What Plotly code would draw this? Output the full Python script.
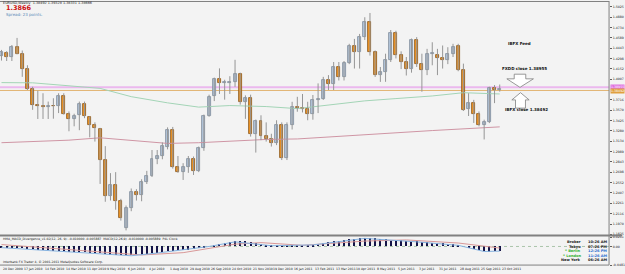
import pandas as pd
import plotly.graph_objects as go

W, H = 625, 274

# ---------------- data ----------------
start_week = "2009-12-20"
n_weeks = 97
opens = [1.4329,1.4378,1.4319,1.4468,1.4367,1.4152,1.3874,1.3647,1.3624,1.3622,
         1.3630,1.3637,1.3772,1.3522,1.3448,1.3498,1.3661,1.3476,1.3364,1.3309,
         1.2872,1.2362,1.2519,1.2287,1.1920,1.2200,1.2418,1.2384,1.2557,1.2649,
         1.2891,1.2927,1.3058,1.3289,1.2766,1.2705,1.2766,1.2891,1.2720,1.3044,
         1.3494,1.3776,1.4005,1.3949,1.3960,1.3971,1.4088,1.3693,1.3749,1.3239,
         1.3424,1.3206,1.3160,1.3110,1.3369,1.2905,1.3369,1.3623,1.3600,1.3587,
         1.3517,1.3717,1.3735,1.3995,1.3935,1.4180,1.4033,1.4236,1.4482,1.4389,
         1.4598,1.4816,1.4389,1.4065,1.4110,1.4283,1.4653,1.4343,1.4250,1.4158,
         1.4561,1.4218,1.4134,1.4367,1.4353,1.4310,1.4283,1.4367,1.4482,1.4144,
         1.3587,1.3679,1.3517,1.3369,1.3401,1.3879,1.38492]
highs = [1.4420,1.4403,1.4489,1.4589,1.4412,1.4204,1.3902,1.3847,1.3810,1.3693,
         1.3740,1.3810,1.3810,1.3554,1.3522,1.3693,1.3693,1.3484,1.3401,1.3323,
         1.3066,1.2686,1.2700,1.2324,1.2230,1.2470,1.2460,1.2600,1.2718,1.3011,
         1.3011,1.3118,1.3330,1.3336,1.2927,1.2826,1.2927,1.2920,1.3060,1.3510,
         1.3790,1.4030,1.4160,1.4000,1.4050,1.4281,1.4100,1.3780,1.3790,1.3440,
         1.3500,1.3400,1.3240,1.3430,1.3400,1.3400,1.3690,1.3760,1.3800,1.3690,
         1.3786,1.3949,1.4041,1.4065,1.4250,1.4250,1.4264,1.4506,1.4575,1.4645,
         1.4880,1.4940,1.4412,1.4180,1.4367,1.4700,1.4690,1.4400,1.4320,1.4580,
         1.4600,1.4367,1.4435,1.4528,1.4435,1.4482,1.4458,1.4506,1.4506,1.4227,
         1.3810,1.3717,1.3554,1.3438,1.3902,1.3925,1.39328]
lows = [1.4270,1.4264,1.4264,1.4360,1.4041,1.3856,1.3577,1.3448,1.3448,1.3448,
        1.3452,1.3531,1.3510,1.3275,1.3345,1.3290,1.3459,1.3189,1.3130,1.2534,
        1.2283,1.2301,1.2171,1.2018,1.1880,1.2150,1.2300,1.2290,1.2533,1.2631,
        1.2812,1.2881,1.3020,1.2750,1.2690,1.2590,1.2690,1.2660,1.2700,1.3000,
        1.3480,1.3700,1.3800,1.3720,1.3800,1.3900,1.3650,1.3450,1.3200,1.2975,
        1.3150,1.3130,1.3060,1.3080,1.2870,1.2870,1.3300,1.3550,1.3540,1.3430,
        1.3438,1.3531,1.3717,1.3856,1.3856,1.3990,1.3990,1.4220,1.4158,1.4158,
        1.4560,1.4340,1.4040,1.3970,1.3971,1.4250,1.4300,1.4150,1.4060,1.4100,
        1.4180,1.3832,1.4065,1.4204,1.4065,1.4158,1.4220,1.4320,1.4120,1.3560,
        1.3490,1.3392,1.3345,1.3160,1.3390,1.3671,1.38331]
closes = [1.4389,1.4319,1.4458,1.4367,1.4158,1.3865,1.3643,1.3624,1.3622,1.3630,
          1.3627,1.3776,1.3522,1.3448,1.3494,1.3661,1.3484,1.3369,1.3317,1.2872,
          1.2362,1.2519,1.2287,1.2056,1.2200,1.2426,1.2384,1.2557,1.2649,1.2891,
          1.2927,1.3066,1.3289,1.2766,1.2705,1.2766,1.2891,1.2720,1.3044,1.3494,
          1.3754,1.4005,1.3949,1.3965,1.3971,1.4088,1.3693,1.3749,1.3239,1.3424,
          1.3206,1.3160,1.3110,1.3369,1.2905,1.3369,1.3623,1.3600,1.3587,1.3517,
          1.3717,1.3735,1.3995,1.3935,1.4180,1.4033,1.4236,1.4482,1.4389,1.4598,
          1.4816,1.4389,1.4065,1.4110,1.4283,1.4653,1.4343,1.4250,1.4158,1.4561,
          1.4218,1.4134,1.4367,1.4370,1.4306,1.4283,1.4367,1.4468,1.4144,1.3577,
          1.3679,1.3517,1.3369,1.3401,1.3879,1.3856,1.38666]

# moving averages read at sample weeks (week index, price)
ma_green_weeks = [0, 6, 19, 25, 32, 38, 44, 51, 57, 64, 70, 76, 83, 89, 96]
ma_green_vals = [1.3960,1.3957,1.3879,1.3762,1.3675,1.3615,1.3637,1.3623,1.3594,
                 1.3647,1.3703,1.3735,1.3772,1.3818,1.3800]
ma_red_weeks = [0, 13, 19, 25, 32, 38, 44, 51, 57, 70, 83, 96]
ma_red_vals = [1.3114,1.3150,1.3183,1.3146,1.3104,1.3114,1.3136,1.3160,1.3167,
               1.3229,1.3285,1.3337]

fxdd_close = 1.38955
ibfx_close = 1.38492
bid = "1.3866"

price_ticks = [1.5025,1.4880,1.4734,1.4589,1.4443,1.4298,1.4152,1.4007,1.3716,
               1.3570,1.3425,1.3280,1.3134,1.2989,1.2843,1.2698,1.2552,1.2407,
               1.2261,1.2116,1.1970,1.1825]

# MACD sub-window
macd_hist = [-0.003,-0.003,-0.004,-0.005,-0.006,-0.007,-0.008,-0.009,-0.010,-0.011,
             -0.012,-0.012,-0.013,-0.014,-0.014,-0.015,-0.016,-0.017,-0.018,-0.019,
             -0.021,-0.022,-0.023,-0.024,-0.024,-0.024,-0.023,-0.022,-0.021,-0.019,
             -0.017,-0.015,-0.013,-0.012,-0.011,-0.010,-0.009,-0.008,-0.006,-0.003,
             0.000,0.003,0.006,0.008,0.010,0.012,0.013,0.012,0.010,0.008,
             0.006,0.004,0.002,0.001,0.001,0.001,0.001,0.001,0.002,0.003,
             0.004,0.006,0.008,0.010,0.012,0.014,0.016,0.018,0.019,0.020,
             0.021,0.021,0.020,0.019,0.018,0.017,0.016,0.015,0.014,0.013,
             0.012,0.011,0.010,0.009,0.008,0.007,0.006,0.005,0.003,0.000,
             -0.004,-0.007,-0.010,-0.013,-0.014,-0.013,-0.012]
macd_blue_weeks = [0, 10, 20, 25, 30, 40, 45, 52, 60, 70, 80, 88, 93, 96]
macd_blue_vals = [-0.003,-0.012,-0.021,-0.024,-0.017,0.000,0.012,0.002,0.004,0.021,0.012,0.003,-0.013,-0.012]
macd_red_weeks = [0, 10, 20, 27, 35, 45, 50, 58, 70, 78, 88, 96]
macd_red_vals = [0.005,-0.005,-0.016,-0.022,-0.016,0.006,0.010,0.003,0.014,0.017,0.009,-0.004]
macd_ticks = [0.0245, 0.0, -0.0481]
macd_tick_text = ["0.0261", "0.00", "-0.0481"]

date_labels_every = 4
clock_names = ["Broker", "Tokyo", "* Berlin", "* London", "New York"]
clock_times = ["10:26 AM", "07:26 PM", "12:26 PM", "11:26 AM", "06:26 AM"]

# ---------------- layout helpers ----------------
def px(x):
    return x / W

def py(y):
    return 1 - y / H

base = pd.Timestamp(start_week)
weeks = [base + pd.Timedelta(weeks=i) for i in range(n_weeks)]
def wk(v):
    return base + pd.Timedelta(days=7 * v)

spacing = 5.215
x0px = 1.5
plot_right = 612
main_bottom = 237
sub_bottom = 267
x_range = [wk(-x0px / spacing), wk((plot_right - x0px) / spacing)]
y_top_price = 1.51085
y_per_px = 0.001392
y_range = [y_top_price - y_per_px * main_bottom, y_top_price]
DAY_MS = 86400000
body_w = 3.0 / spacing * 7 * DAY_MS

BG = "#f3f3f3"
FONT = "Tahoma, DejaVu Sans, sans-serif"

fig = go.Figure()

# MA lines (behind candles)
fig.add_trace(go.Scatter(x=[wk(w) for w in ma_green_weeks], y=ma_green_vals, mode="lines",
                         line=dict(color="#a3d4b6", width=1), xaxis="x", yaxis="y",
                         showlegend=False, hoverinfo="skip"))
fig.add_trace(go.Scatter(x=[wk(w) for w in ma_red_weeks], y=ma_red_vals, mode="lines",
                         line=dict(color="#cf95a4", width=1), xaxis="x", yaxis="y",
                         showlegend=False, hoverinfo="skip"))

# wicks
wx, wy = [], []
for d, lo, hi in zip(weeks, lows, highs):
    wx += [d, d, None]
    wy += [lo, hi, None]
fig.add_trace(go.Scatter(x=wx, y=wy, mode="lines", line=dict(color="#959595", width=1),
                         xaxis="x", yaxis="y", showlegend=False, hoverinfo="skip"))

# bodies
min_body = 0.0005
for up, fill, edge in [(True, "#b4c6dc", "#7d8a99"), (False, "#ee9426", "#8a5616")]:
    xs, bases, lens = [], [], []
    for d, o, c in zip(weeks, opens, closes):
        if (c >= o) == up:
            xs.append(d)
            bases.append(min(o, c))
            lens.append(max(abs(c - o), min_body))
    fig.add_trace(go.Bar(x=xs, y=lens, base=bases, width=body_w,
                         marker=dict(color=fill, line=dict(color=edge, width=0.8)),
                         xaxis="x", yaxis="y", showlegend=False, hoverinfo="skip"))

# MACD window
fig.add_trace(go.Bar(x=weeks, y=macd_hist, marker=dict(color="#141448", line=dict(width=0)),
                     width=1.4 * DAY_MS, xaxis="x", yaxis="y2", showlegend=False,
                     hoverinfo="skip"))
fig.add_trace(go.Scatter(x=[wk(w) for w in macd_red_weeks], y=macd_red_vals, mode="lines",
                         line=dict(color="#d89898", width=1), xaxis="x", yaxis="y2",
                         showlegend=False, hoverinfo="skip"))
fig.add_trace(go.Scatter(x=[wk(w) for w in macd_blue_weeks], y=macd_blue_vals, mode="lines",
                         line=dict(color="#86b2e0", width=1), xaxis="x", yaxis="y2",
                         showlegend=False, hoverinfo="skip"))

shapes = []
shapes.append(dict(type="line", xref="paper", x0=0, x1=px(plot_right), yref="y",
                   y0=fxdd_close, y1=fxdd_close, line=dict(color="#ebb8ee", width=2), layer="below"))
shapes.append(dict(type="line", xref="paper", x0=0, x1=px(plot_right), yref="y",
                   y0=ibfx_close, y1=ibfx_close, line=dict(color="#e2b474", width=1), layer="below"))
shapes.append(dict(type="line", xref="paper", x0=0, x1=px(plot_right), yref="y2",
                   y0=0, y1=0, line=dict(color="#98b898", width=0.8, dash="dot"), layer="below"))
for (a, b, c, d, w) in [(0, 0.5, plot_right, 0.5, 1), (0, main_bottom, plot_right + 13, main_bottom, 2),
                        (0, sub_bottom, plot_right, sub_bottom, 1),
                        (plot_right, 0, plot_right, sub_bottom, 1)]:
    shapes.append(dict(type="line", xref="paper", yref="paper", x0=px(a), y0=py(b), x1=px(c), y1=py(d),
                       line=dict(color="#808080", width=w)))

def poly(pts):
    return "M " + " L ".join(f"{px(x):.5f},{py(y):.5f}" for x, y in pts) + " Z"

down_arrow = [(516.7, 74), (528.3, 74), (528.3, 78.7), (536, 78.7), (522.5, 87.3), (509.3, 78.7), (516.7, 78.7)]
up_arrow = [(523, 92.7), (531.7, 100), (528, 100), (528, 108.3), (518, 108.3), (518, 100), (514.3, 100)]
for pts in (down_arrow, up_arrow):
    shapes.append(dict(type="path", xref="paper", yref="paper", path=poly(pts),
                       fillcolor="white", line=dict(color="#808080", width=0.8)))

ann = []
def text(x, y, s, size=4, color="#000000", anchor="left", bold=False, bg=None):
    d = dict(x=px(x), y=py(y), xref="paper", yref="paper", text=f"<b>{s}</b>" if bold else s,
             showarrow=False, xanchor=anchor, yanchor="middle",
             font=dict(size=size, color=color, family=FONT))
    if bg:
        d["bgcolor"] = bg
        d["borderpad"] = 0
    ann.append(d)

text(1.5, 2.5, "EURUSD,Weekly  1.38492 1.39328 1.38331 1.38666", 3.4, "#202020")
text(4, 6.7, bid, 6.5, "#cc1010", bold=True)
text(4, 13.7, "Spread: 23 points.", 4, "#5a8ab8")
text(522, 43.3, "IBFX Feed", 4, "#101010", "center", True)
text(527, 68.3, f"FXDD close {fxdd_close:.5f}", 4, "#101010", "center", True)
text(529, 110, f"IBFX close {ibfx_close:.5f}", 4, "#101010", "center", True)

text(1.5, 241, "HMA_MACD_Divergence_v1.02(12, 26, 9): -0.010000 -0.005887  MACD(12,26,9) -0.010000 -0.005889  P4L Clock",
     3.1, "#202020")
text(1.5, 264, "Interbank FX Trader 4, \u00a9 2001-2011 MetaQuotes Software Corp.", 3.1, "#202020")

clock_colors_name = ["#202020", "#202020", "#30b030", "#30b030", "#202020"]
clock_colors_time = ["#202020", "#202020", "#3070d0", "#3070d0", "#202020"]
for k, (nm, tm) in enumerate(zip(clock_names, clock_times)):
    yy = 243.7 + k * 4.6
    text(586, yy, nm, 3.6, clock_colors_name[k], "right", True)
    text(589, yy, tm, 3.6, clock_colors_time[k], "left", True)

text(613, 87.0, f"{fxdd_close:.5f}", 3.2, "#ffffff", "left", False, "#e070e0")
text(613, 90.8, f"{ibfx_close:.5f}", 3.2, "#ffffff", "left", False, "#e0a040")

for i in range(0, n_weeks, date_labels_every):
    d = weeks[i]
    ann.append(dict(x=d, y=py(270.5), xref="x", yref="paper", text=f"{d.day} {d.strftime('%b %Y')}",
                    showarrow=False, xanchor="left", yanchor="middle",
                    font=dict(size=3.1, color="#202020", family=FONT)))

fig.update_layout(
    width=W, height=H, margin=dict(l=0, r=0, t=0, b=0),
    paper_bgcolor=BG, plot_bgcolor=BG, barmode="overlay",
    font=dict(family=FONT, size=4, color="#202020"),
    xaxis=dict(domain=[0, px(plot_right)], type="date", range=x_range, anchor="y2",
               showgrid=False, zeroline=False, showticklabels=False, ticks="",
               rangeslider=dict(visible=False), showline=False),
    yaxis=dict(domain=[py(main_bottom), 1], range=y_range, side="right", anchor="x",
               showgrid=False, zeroline=False, tickvals=price_ticks,
               ticktext=[f"{v:.4f}" for v in price_ticks], ticks="outside", ticklen=2,
               tickcolor="#606060", tickfont=dict(size=3.2, color="#202020"), showline=False),
    yaxis2=dict(domain=[py(sub_bottom), py(main_bottom + 1)], range=[-0.0481, 0.0261], side="right",
                anchor="x", showgrid=False, zeroline=False, tickvals=macd_ticks,
                ticktext=macd_tick_text, ticks="outside", ticklen=2, tickcolor="#606060",
                tickfont=dict(size=3.2, color="#202020"), showline=False),
    shapes=shapes, annotations=ann, bargap=0,
)

fig.write_html("out.html")
